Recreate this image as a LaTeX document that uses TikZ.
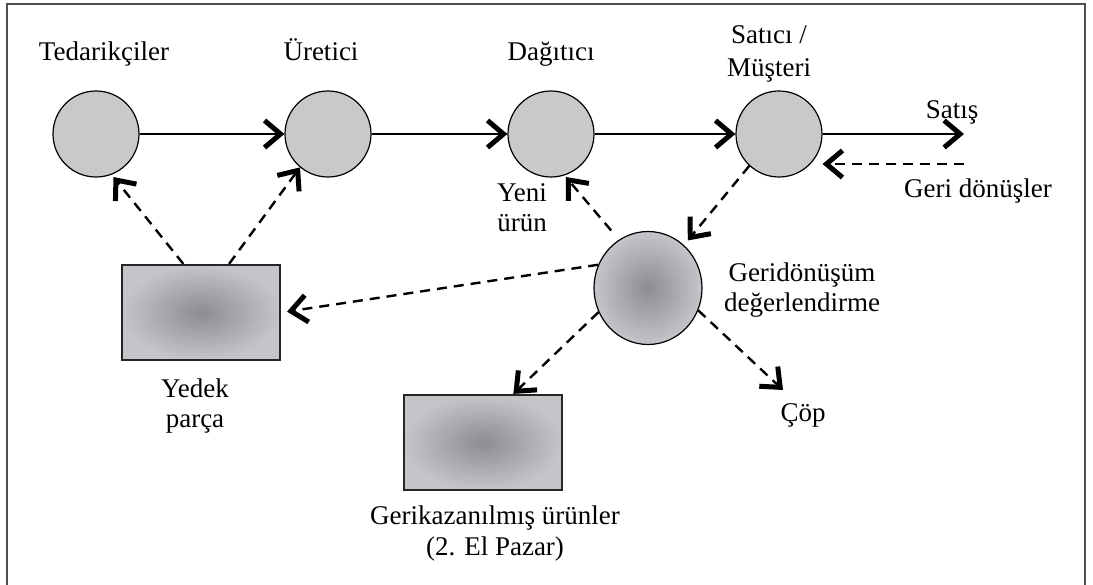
\documentclass[tikz,border=0pt]{standalone}
\usepackage{fontspec}
\setmainfont{Liberation Serif}
\usetikzlibrary{arrows.meta,shapes.geometric}
\definecolor{flatgray}{RGB}{200,201,203}
\definecolor{shin}{RGB}{140,141,144}
\definecolor{shout}{RGB}{196,197,200}
\definecolor{framegray}{RGB}{80,80,80}
\tikzset{
  lbl/.style={font=\fontsize{27}{30.5}\selectfont, align=center, inner sep=0pt, anchor=base},
  flatnode/.style={circle, draw=black, line width=1.2pt, fill=flatgray, minimum size=86pt, inner sep=0pt},
  shadenode/.style={ellipse, draw=black, line width=1.2pt, inner color=shin, outer color=shout, minimum width=108pt, minimum height=113pt, inner sep=0pt},
  shadebox/.style={rectangle, draw=black!85, line width=2.2pt, inner color=shin, outer color=shout, minimum width=158pt, minimum height=95pt, inner sep=0pt},
  tip/.style={-{Straight Barb[length=16pt,width=27pt,line width=5pt]}},
  solidarr/.style={tip, line width=2.8pt},
  dasharr/.style={tip, line width=2.4pt, dash pattern=on 10pt off 7pt},
}
\begin{document}
\begin{tikzpicture}[x=1pt,y=-1pt]
\useasboundingbox (0,0) rectangle (1093,585);
\fill[white] (0,0) rectangle (1093,585);
\draw[framegray, line width=1.5pt] (7,600) -- (7,4) -- (1085,4) -- (1085,600);

% nodes
\node[flatnode] (ted) at (96,134) {};
\node[flatnode] (ure) at (328,134) {};
\node[flatnode] (dag) at (551,134) {};
\node[flatnode] (sat) at (779,134) {};
\node[shadenode] (geri) at (648,288) {};
\node[shadebox] (yedek) at (201,312.5) {};
\node[shadebox] (gerik) at (483,442.5) {};

% labels (anchor = baseline of the last line)
\node[lbl] (lted) at (104,61) {Tedarikçiler};
\node[lbl] (lure) at (321,61) {Üretici};
\node[lbl] (ldag) at (551,61) {Dağıtıcı};
\node[lbl, font=\fontsize{27}{33}\selectfont] (lsat) at (769,77) {Satıcı /\\Müşteri};
\node[lbl] (lsatis) at (952,119) {Satış};
\node[lbl] (lgd) at (978,198) {Geri dönüşler};
\node[lbl] (lyeni) at (522,232) {Yeni\\ürün};
\node[lbl] (lgeri) at (802,312) {Geridönüşüm\\değerlendirme};
\node[lbl] (lyedek) at (195,428) {Yedek\\parça};
\node[lbl] (lcop) at (803,421) {Çöp};
\node[lbl] (lgerik) at (495,555) {Gerikazanılmış ürünler\\(2. El Pazar)};

\coordinate (satisend) at (964,134);
\coordinate (gdstart) at (964,164);
\coordinate (copend) at (783,390);

% solid arrows
\draw[solidarr] (ted) -- (ure);
\draw[solidarr] (ure) -- (dag);
\draw[solidarr] (dag) -- (sat);
\draw[solidarr] (sat) -- (satisend);

% dashed arrows
\draw[dasharr] (gdstart) -- (gdstart -| sat.east);
\draw[dasharr, shorten >=3pt] (yedek.110.8) -- (ted.-69);
\draw[dasharr] (yedek.60.4) -- (ure.-130);
\draw[dasharr, shorten <=12pt, shorten >=2pt] (geri.121.8) -- (dag.-72);
\draw[dasharr, shorten >=6pt] (sat.-133) -- (geri.50);
\draw[dasharr, shorten >=6pt] (geri.155.7) -- (yedek.east);
\draw[dasharr] (geri.-154.7) -- (gerik.58.6);
\draw[dasharr] (geri.-24.8) -- (copend);
\end{tikzpicture}
\end{document}
